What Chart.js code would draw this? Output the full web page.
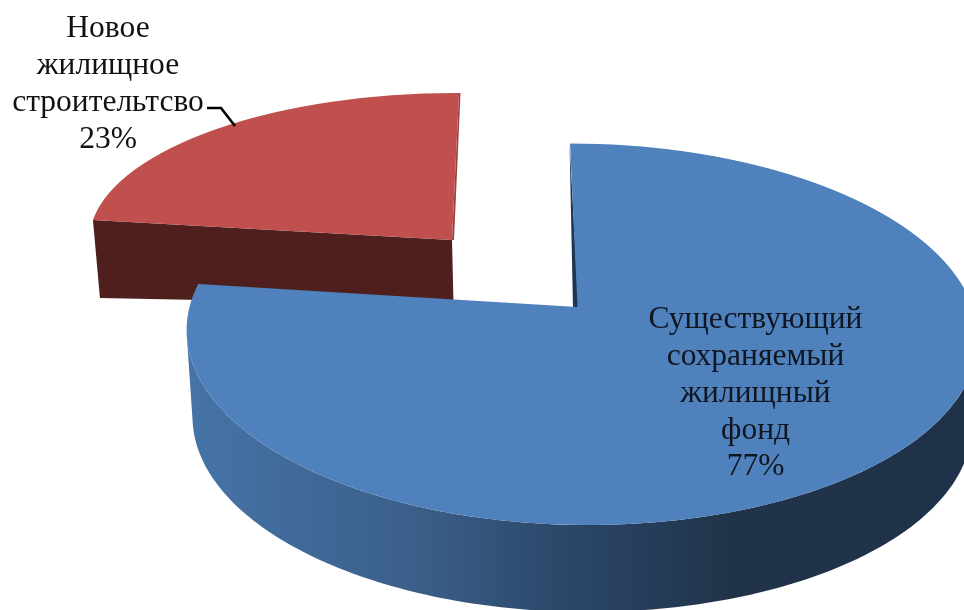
<!DOCTYPE html>
<html>
<head>
<meta charset="utf-8">
<style>
	html, body { margin: 0; padding: 0; background: #fff; }
	canvas { display: block; }
</style>
<script src="https://cdn.jsdelivr.net/npm/chart.js@4"></script>
</head>
<body>
<canvas id="myChart" width="964" height="610"></canvas>
<script>
	var categories = [
		['Существующий', 'сохраняемый', 'жилищный', 'фонд'],
		['Новое', 'жилищное', 'строительтсво']
	];
	var shares = [77, 23];
	var topColors = ['#4f81bd', '#c0504d'];

	// perspective of the big slice: apex, forward tilt and half widths of the disc
	const big = { x0: 577.5, y0: 307, k: -0.1429, a: 143, bLeft: 388, bRight: 395, c: -74 };
	// extrusion of the big slice, edge angles are where the side turns out of view
	const wall = { depth: 87, shrink: 0.985, cx: 581, fromAngle: 0.15, toAngle: 2.99 };
	// small slice is pulled out, flat affine map is enough for it
	const small = { x: 452, y: 240, ax: 362.8, ay: 1.6, bx: 7, by: -147, depthLeft: 78, depthRight: 65 };

	const labelBoxes = [
		{ x: 755.5, y: 320, color: '#10161f' },
		{ x: 108, y: 29, color: '#111' }
	];
	const lineStep = 36.8;
	const leader = [[207, 108], [221, 108], [235, 126]];

	function project(u, v) {
		const w = 1 + big.k * v;
		const b = u > 0 ? big.bRight : big.bLeft;
		return {
			x: (big.x0 + b * u + big.c * v) / w,
			y: (big.y0 + big.a * v) / w
		};
	}

	function polygon(ctx, points, fill) {
		ctx.beginPath();
		points.forEach(function(p, i) {
			if (i === 0) ctx.moveTo(p.x, p.y);
			else ctx.lineTo(p.x, p.y);
		});
		ctx.closePath();
		ctx.fillStyle = fill;
		ctx.fill();
	}

	function wallGradient(ctx) {
		const g = ctx.createLinearGradient(186, 0, 964, 0);
		g.addColorStop(0, '#4674a8');
		g.addColorStop(0.29, '#3b5f8a');
		g.addColorStop(0.49, '#2b4769');
		g.addColorStop(0.70, '#203349');
		g.addColorStop(1, '#1f3249');
		return g;
	}

	class Pie3dController extends Chart.PieController {
		draw() {
			const ctx = this.chart.ctx;
			const arcs = this.getMeta().data;
			this.drawSmall(ctx, arcs[1]);
			this.drawBig(ctx, arcs[0]);
		}

		drawSmall(ctx, arc) {
			const R = arc.outerRadius;
			const s = small;
			const left = {
				x: s.x + s.ax * Math.cos(arc.startAngle) - s.bx * Math.sin(arc.startAngle),
				y: s.y + s.ay * Math.cos(arc.startAngle) - s.by * Math.sin(arc.startAngle)
			};

			// front cut and the thin side along the back cut
			polygon(ctx, [
				left,
				{ x: s.x, y: s.y },
				{ x: s.x + 1.5, y: s.y + s.depthRight },
				{ x: left.x + 7, y: left.y + s.depthLeft }
			], '#4f1f1d');
			polygon(ctx, [
				{ x: s.x + s.bx, y: s.y + s.by },
				{ x: s.x + s.bx + 1.5, y: s.y + s.by },
				{ x: s.x + 2, y: s.y },
				{ x: s.x, y: s.y }
			], '#9c403e');

			ctx.save();
			ctx.setTransform(s.ax / R, s.ay / R, -s.bx / R, -s.by / R,
				s.x - (s.ax * arc.x - s.bx * arc.y) / R,
				s.y - (s.ay * arc.x - s.by * arc.y) / R);
			arc.draw(ctx);
			ctx.restore();
		}

		drawBig(ctx, arc) {
			const R = arc.outerRadius;
			const upper = [];
			const lower = [];
			const steps = 160;

			for (let i = 0; i <= steps; i++) {
				const t = wall.fromAngle + (wall.toAngle - wall.fromAngle) * i / steps;
				const p = project(Math.cos(t), Math.sin(t));
				upper.push(p);
				lower.push({ x: wall.cx + (p.x - wall.cx) * wall.shrink, y: p.y + wall.depth });
			}
			polygon(ctx, upper.concat(lower.reverse()), wallGradient(ctx));

			// inner cut seen edge-on beside the apex
			const rim = project(Math.cos(arc.startAngle), Math.sin(arc.startAngle));
			polygon(ctx, [
				{ x: rim.x - 0.5, y: rim.y },
				{ x: big.x0 + 1, y: big.y0 + 1 },
				{ x: big.x0 - 4.5, y: big.y0 + 1 }
			], '#1e3553');

			// the disc goes row by row, each row has its own scale from the perspective,
			// left and right of the axis are scaled apart
			const top = Math.floor(project(0, -1).y) - 1;
			const bottom = Math.ceil(project(0, 1).y) + 1;
			for (let row = top; row < bottom; row++) {
				const sy = row + 0.5;
				const v = (sy - big.y0) / (big.a - big.k * sy);
				const w = 1 + big.k * v;
				const sx = (big.x0 + big.c * v) / w;
				const scaleY = (big.a - big.y0 * big.k) / (w * w * R);
				const axis = Math.round(sx);

				[[0, axis, big.bLeft], [axis, 964 - axis, big.bRight]].forEach(function(part) {
					const scaleX = part[2] / (w * R);
					ctx.save();
					ctx.beginPath();
					ctx.rect(part[0], row, part[1], 1);
					ctx.clip();
					ctx.setTransform(scaleX, 0, 0, scaleY,
						sx - scaleX * arc.x,
						sy - scaleY * (arc.y + v * R));
					arc.draw(ctx);
					ctx.restore();
				});
			}
		}
	}
	Pie3dController.id = 'pie3d';
	Pie3dController.defaults = Chart.PieController.defaults;
	Chart.register(Pie3dController);

	const labelsPlugin = {
		id: 'sliceLabels',
		afterDatasetsDraw: function(chart) {
			const ctx = chart.ctx;
			ctx.save();
			ctx.font = '31.5px "Liberation Serif"';
			ctx.textAlign = 'center';
			ctx.textBaseline = 'middle';
			categories.forEach(function(lines, i) {
				const box = labelBoxes[i];
				ctx.fillStyle = box.color;
				lines.concat(shares[i] + '%').forEach(function(line, n) {
					ctx.fillText(line, box.x, box.y + n * lineStep);
				});
			});

			ctx.beginPath();
			leader.forEach(function(p, i) {
				if (i === 0) ctx.moveTo(p[0], p[1]);
				else ctx.lineTo(p[0], p[1]);
			});
			ctx.lineWidth = 2.6;
			ctx.strokeStyle = '#000';
			ctx.stroke();
			ctx.restore();
		}
	};

	new Chart(document.getElementById('myChart'), {
		type: 'pie3d',
		data: {
			labels: categories.map(function(lines) { return lines.join(' '); }),
			datasets: [{
				data: shares,
				backgroundColor: topColors,
				borderWidth: 0
			}]
		},
		options: {
			responsive: false,
			animation: false,
			plugins: {
				legend: { display: false },
				tooltip: { enabled: false }
			}
		},
		plugins: [labelsPlugin]
	});
</script>
</body>
</html>
